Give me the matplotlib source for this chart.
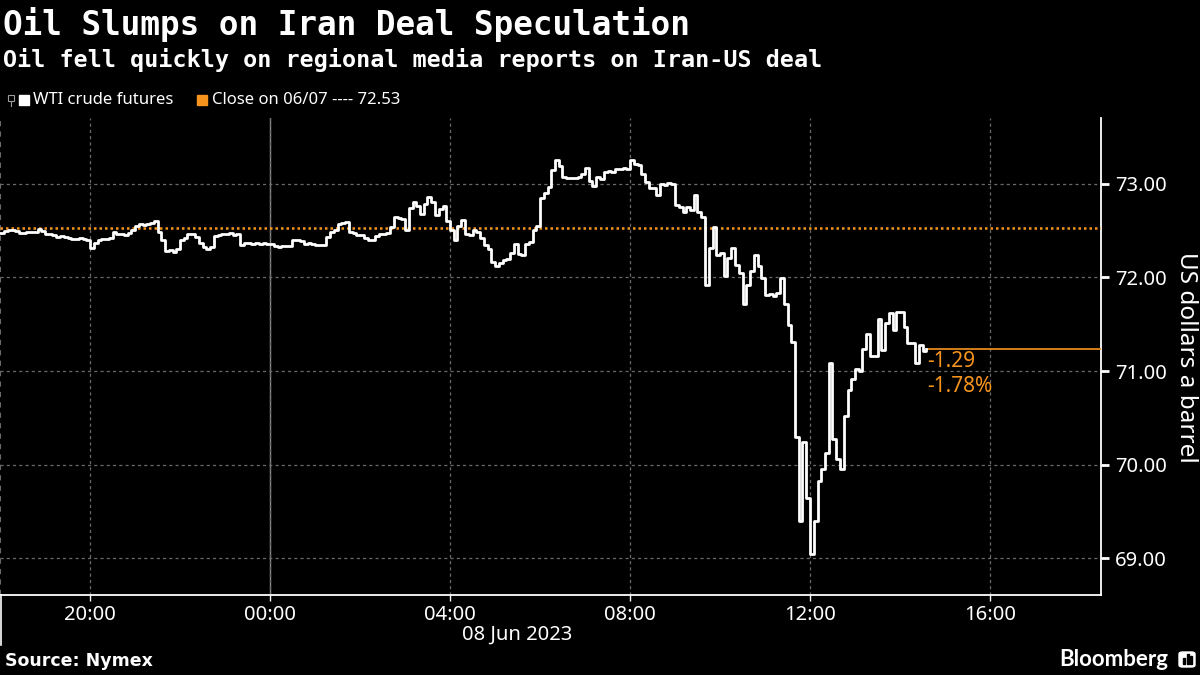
import matplotlib
matplotlib.use("Agg")
import matplotlib.pyplot as plt
import matplotlib.dates as mdates
from matplotlib.ticker import MultipleLocator, FormatStrFormatter
from matplotlib.patches import Rectangle, FancyBboxPatch
from matplotlib.lines import Line2D
import pandas as pd

plt.rcParams["font.family"] = ["Noto Sans", "DejaVu Sans"]

# WTI crude futures, 5-minute closes (07 Jun 18:00 -> 08 Jun 14:35)
p_18 = [72.47, 72.49, 72.50, 72.50, 72.49, 72.47, 72.47, 72.48, 72.48, 72.48, 72.52, 72.49]
p_19 = [72.46, 72.46, 72.45, 72.43, 72.44, 72.43, 72.42, 72.41, 72.41, 72.42, 72.41, 72.40]
p_20 = [72.31, 72.37, 72.40, 72.41, 72.41, 72.42, 72.48, 72.46, 72.46, 72.45, 72.47, 72.51]
p_21 = [72.55, 72.57, 72.56, 72.57, 72.58, 72.60, 72.48, 72.40, 72.28, 72.29, 72.27, 72.30]
p_22 = [72.40, 72.42, 72.46, 72.46, 72.43, 72.37, 72.32, 72.30, 72.32, 72.44, 72.45, 72.46]
p_23 = [72.46, 72.47, 72.45, 72.46, 72.35, 72.37, 72.37, 72.36, 72.37, 72.36, 72.37, 72.36]
p_00 = [72.36, 72.33, 72.32, 72.33, 72.33, 72.33, 72.40, 72.40, 72.39, 72.36, 72.37, 72.36]
p_01 = [72.34, 72.34, 72.35, 72.43, 72.48, 72.50, 72.57, 72.58, 72.59, 72.48, 72.47, 72.45]
p_02 = [72.45, 72.42, 72.40, 72.40, 72.44, 72.46, 72.46, 72.47, 72.54, 72.64, 72.63, 72.62]
p_03 = [72.50, 72.74, 72.80, 72.76, 72.68, 72.78, 72.86, 72.80, 72.67, 72.73, 72.76, 72.60]
p_04 = [72.51, 72.40, 72.55, 72.61, 72.46, 72.45, 72.50, 72.48, 72.42, 72.34, 72.30, 72.16]
p_05 = [72.12, 72.15, 72.18, 72.20, 72.26, 72.36, 72.25, 72.24, 72.36, 72.38, 72.50, 72.55]
p_06 = [72.85, 72.90, 72.96, 73.14, 73.25, 73.19, 73.07, 73.06, 73.06, 73.06, 73.07, 73.10]
p_07 = [73.17, 73.03, 72.97, 73.07, 73.05, 73.12, 73.13, 73.12, 73.16, 73.16, 73.17, 73.16]
p_08 = [73.25, 73.21, 73.20, 73.10, 73.02, 72.95, 72.95, 72.88, 73.00, 72.99, 73.01, 73.00]
p_09 = [72.77, 72.75, 72.70, 72.75, 72.72, 72.88, 72.70, 72.64, 71.92, 72.31, 72.54, 72.24]
p_10 = [72.26, 72.01, 72.21, 72.31, 72.13, 72.05, 71.71, 71.92, 72.07, 72.24, 72.12, 71.99]
p_11 = [71.81, 71.82, 71.80, 71.83, 71.99, 71.71, 71.49, 71.31, 70.30, 69.40, 70.24, 69.64]
p_12 = [69.05, 69.40, 69.83, 69.95, 70.13, 71.09, 70.27, 70.06, 69.95, 70.52, 70.80, 70.91]
p_13 = [71.02, 71.00, 71.24, 71.39, 71.16, 71.16, 71.55, 71.22, 71.51, 71.62, 71.44, 71.63]
p_14 = [71.63, 71.47, 71.30, 71.30, 71.09, 71.28, 71.21, 71.24]

prices = (p_18 + p_19 + p_20 + p_21 + p_22 + p_23 + p_00 + p_01 + p_02 + p_03 + p_04
          + p_05 + p_06 + p_07 + p_08 + p_09 + p_10 + p_11 + p_12 + p_13 + p_14)
times = pd.date_range("2023-06-07 18:00", periods=len(prices), freq="5min")

close_prev = 72.53          # close on 06/07
last = prices[-1]
chg = last - close_prev
pct = chg / close_prev * 100

x_start = pd.Timestamp("2023-06-07 18:00")
x_end = pd.Timestamp("2023-06-08 18:28")
midnight = pd.Timestamp("2023-06-08 00:00")

ORANGE = "#F7941D"
GRID = "#6a6a6a"
W, H = 1200, 675


def fx(px):
    return px / W


def fy(py):
    return 1 - py / H


fig = plt.figure(figsize=(12, 6.75), dpi=100, facecolor="black")
ax = fig.add_axes([0, fy(595), fx(1101), fy(118) - fy(595)])
ax.set_facecolor("black")

# price line + previous close + last price marker line
ax.step(times, prices, where="post", color="white", lw=2.0, zorder=4)
ax.axhline(close_prev, color=ORANGE, lw=1.8, ls=(0, (1, 1.2)), zorder=3)
ax.hlines(last, times[-1], x_end, color=ORANGE, lw=1.2, zorder=3)

ax.annotate(f"{chg:.2f}", xy=(times[-1], last), xytext=(1, -13), textcoords="offset pixels",
            ha="left", va="center", color=ORANGE, fontsize=15)
ax.annotate(f"{pct:.2f}%", xy=(times[-1], last), xytext=(1, -38), textcoords="offset pixels",
            ha="left", va="center", color=ORANGE, fontsize=15)

ax.set_xlim(x_start, x_end)
ax.set_ylim(68.61, 73.70)

# axes, ticks
ax.yaxis.tick_right()
ax.yaxis.set_major_locator(MultipleLocator(1))
ax.yaxis.set_minor_locator(MultipleLocator(0.5))
ax.yaxis.set_major_formatter(FormatStrFormatter("%.2f"))
ax.xaxis.set_major_locator(mdates.HourLocator(byhour=[0, 4, 8, 12, 16, 20]))
ax.xaxis.set_minor_locator(mdates.HourLocator(byhour=range(0, 24, 2)))
ax.xaxis.set_major_formatter(mdates.DateFormatter("%H:%M"))

for s in ["top", "left"]:
    ax.spines[s].set_visible(False)
for s in ["bottom", "right"]:
    ax.spines[s].set_color("white")
    ax.spines[s].set_linewidth(1.3)

ax.tick_params(axis="both", colors="white", labelsize=14.5)
ax.tick_params(axis="x", which="major", length=4, width=1, pad=3)
ax.tick_params(axis="x", which="minor", length=4, width=1)
ax.tick_params(axis="y", which="major", length=6, width=2, pad=4)
ax.tick_params(axis="y", which="minor", length=5, width=1)

ax.grid(True, which="major", color=GRID, lw=0.9, ls=(0, (2.5, 2.5)), zorder=1)
ax.axvline(midnight, color="#8a8a8a", lw=1, zorder=1)
ax.axvline(x_start, color=GRID, lw=1.5, ls=(0, (2.5, 2.5)), zorder=1)

fig.text(fx(517), fy(635), "08 Jun 2023", color="white", fontsize=14.5, ha="center", va="center")
fig.add_artist(Line2D([fx(1), fx(1)], [fy(595), fy(645)], color="white", lw=1.2))
fig.text(fx(1186), fy(357), "US dollars a barrel", color="white", fontsize=17.5,
         rotation=270, ha="center", va="center")

# titles
fig.text(fx(3), fy(35), "Oil Slumps on Iran Deal Speculation", color="white", fontsize=23.5,
         family="DejaVu Sans Mono", fontweight="bold", va="baseline")
fig.text(fx(3), fy(67), "Oil fell quickly on regional media reports on Iran-US deal", color="white",
         fontsize=16.8, family="DejaVu Sans Mono", fontweight="bold", va="baseline")

# legend
fig.add_artist(Rectangle((fx(8), fy(101)), fx(6), 6 / H, fill=False, ec="#9a9a9a", lw=0.8))
fig.add_artist(Line2D([fx(11), fx(11)], [fy(101), fy(106)], color="#9a9a9a", lw=0.8))
fig.add_artist(Rectangle((fx(19), fy(105)), fx(10), 10 / H, color="white"))
fig.text(fx(33), fy(100), "WTI crude futures", color="white", fontsize=12, va="center")
fig.add_artist(Rectangle((fx(197), fy(105)), fx(10), 10 / H, color=ORANGE))
fig.text(fx(212), fy(100), f"Close on 06/07 ---- {close_prev:.2f}", color="white", fontsize=12,
         va="center")

# footer
fig.text(fx(5), fy(661), "Source: Nymex", color="white", fontsize=12.5, fontweight="bold",
         family="DejaVu Sans", va="center")
fig.text(fx(1168), fy(659), "Bloomberg", color="white", fontsize=16, fontweight="bold",
         family="Lato", ha="right", va="center")
fig.add_artist(FancyBboxPatch((fx(1179), fy(667)), fx(16), 15 / H,
                              boxstyle="round,pad=0,rounding_size=0.003", color="white"))
for bx, bh in zip([1183, 1186.5, 1190], [6, 10, 8]):
    fig.add_artist(Rectangle((fx(bx), fy(664)), fx(2), bh / H, color="black"))

fig.savefig("out.png", dpi=100, facecolor="black")
